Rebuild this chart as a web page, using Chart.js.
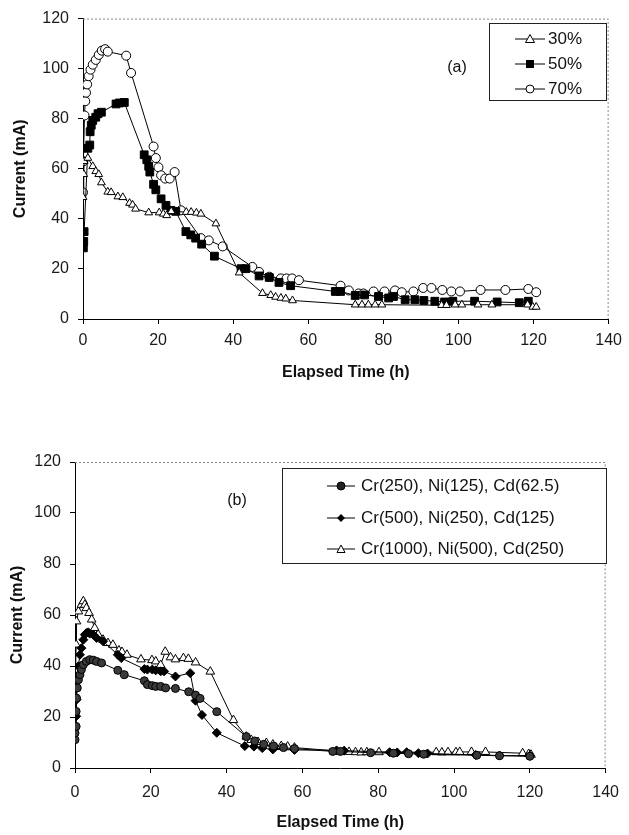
<!DOCTYPE html>
<html>
<head>
<meta charset="utf-8">
<script src="https://cdn.jsdelivr.net/npm/chart.js@4.4.1/dist/chart.umd.min.js"></script>
<style>
  body { margin: 0; background: #fff; width: 629px; height: 835px; position: relative; overflow: hidden;
         font-family: "Liberation Sans", Arial, sans-serif; color: #111; }
  .wrap { position: absolute; left: 0; width: 629px; }
  .legend { position: absolute; border: 1px solid #222; background: #fff; box-sizing: border-box; }
  .row { position: absolute; left: 0; height: 20px; display: flex; align-items: center; font-size: 17px; white-space: nowrap; }
  .row svg { display: block; }
  .tag { position: absolute; font-size: 16px; transform: translate(-50%, -50%); }
</style>
</head>
<body>
<div class="wrap" style="top:0;height:400px"><canvas id="chartA"></canvas></div>
<div class="wrap" style="top:400px;height:435px"><canvas id="chartB"></canvas></div>

<div class="tag" style="left:457px;top:67px">(a)</div>
<div class="legend" style="left:489px;top:23px;width:118px;height:78px">
  <div class="row" style="top:5px;left:25px">
    <svg width="30" height="12"><line x1="0" y1="6" x2="30" y2="6" stroke="#000"/><polygon points="15,1.5 19.5,9.5 10.5,9.5" fill="#fff" stroke="#000"/></svg>
    <span style="margin-left:3px">30%</span>
  </div>
  <div class="row" style="top:30px;left:25px">
    <svg width="30" height="12"><line x1="0" y1="6" x2="30" y2="6" stroke="#000"/><rect x="11" y="2" width="8" height="8" fill="#000"/></svg>
    <span style="margin-left:3px">50%</span>
  </div>
  <div class="row" style="top:55px;left:25px">
    <svg width="30" height="12"><line x1="0" y1="6" x2="30" y2="6" stroke="#000"/><circle cx="15" cy="6" r="4" fill="#fff" stroke="#000"/></svg>
    <span style="margin-left:3px">70%</span>
  </div>
</div>

<div class="tag" style="left:237px;top:500px">(b)</div>
<div class="legend" style="left:282px;top:468px;width:325px;height:96px">
  <div class="row" style="top:7px;left:44px">
    <svg width="28" height="12"><line x1="0" y1="6" x2="28" y2="6" stroke="#000"/><circle cx="14" cy="6" r="4" fill="#222" stroke="#000"/></svg>
    <span style="margin-left:6px">Cr(250), Ni(125), Cd(62.5)</span>
  </div>
  <div class="row" style="top:39px;left:44px">
    <svg width="28" height="12"><line x1="0" y1="6" x2="28" y2="6" stroke="#000"/><polygon points="14,2 18,6 14,10 10,6" fill="#000"/></svg>
    <span style="margin-left:6px">Cr(500), Ni(250), Cd(125)</span>
  </div>
  <div class="row" style="top:70px;left:44px">
    <svg width="28" height="12"><line x1="0" y1="6" x2="28" y2="6" stroke="#000"/><polygon points="14,2 18,9.5 10,9.5" fill="#fff" stroke="#000"/></svg>
    <span style="margin-left:6px">Cr(1000), Ni(500), Cd(250)</span>
  </div>
</div>

<script>
// Chart (a): applied voltage level, current vs elapsed time
const t30 = [0, 0.2, 0.3, 1.3, 2.6, 3.4, 4.2, 4.9, 6.6, 7.5, 9.3, 10.6, 12.4, 13.2, 14, 17.5, 20.3, 21.4, 22.3, 23.5, 27.5, 28.8, 30.2, 31.4, 35.4, 41.6, 47.8, 50, 51.3, 52.7, 54, 55.8, 72.5, 74.3, 76, 77.8, 79.6, 95.5, 96.8, 99.1, 100.9, 105.2, 108.9, 118.4, 119.8, 120.7];
const c30 = [48.6, 57.8, 63, 64.3, 61, 59, 57.8, 54.5, 50.8, 50.6, 48.9, 48.6, 46.3, 45.6, 44, 42.5, 42.5, 42, 41.4, 43, 42.7, 42.7, 42.4, 42, 38.1, 18.5, 10.3, 9.5, 8.8, 8.4, 8.1, 7.4, 5.7, 5.7, 5.7, 5.7, 5.7, 5.5, 5.5, 5.7, 5.7, 5.7, 5.7, 5.7, 4.8, 4.8];

const t50 = [0.1, 0.2, 0.3, 1.3, 1.8, 1.9, 2.2, 2.6, 3.4, 4, 4.9, 8.8, 9.7, 11, 16.3, 17, 17.5, 17.8, 18.8, 19.4, 20.8, 22.1, 23.4, 24.7, 27.4, 28.7, 30, 31.6, 35, 42.1, 43.4, 46.9, 49.6, 52.2, 55.3, 67.2, 68.6, 72.5, 75, 78.7, 81.4, 82.7, 85.8, 88.4, 90.8, 93.7, 96.3, 98.5, 104.3, 110.3, 116.2, 118.6];
const c50 = [28.4, 31, 34.9, 68.2, 69.5, 74.8, 77.4, 79.3, 80.6, 82, 82.6, 85.9, 86.3, 86.5, 65.6, 63.6, 61, 58.7, 53.8, 51.6, 48, 45.4, 43.4, 43, 34.9, 33.6, 32.3, 29.9, 25.1, 20.1, 20.1, 17.2, 16.6, 14.6, 13.3, 11, 11, 9.4, 9.6, 9, 8.4, 9, 7.7, 7.7, 7.4, 7.1, 6.8, 7.1, 7.1, 6.8, 6.5, 7.1];

const t70 = [0, 0.1, 0.4, 0.6, 0.8, 1.1, 1.5, 2, 2.6, 3.4, 4.2, 5, 5.9, 6.6, 11.5, 12.8, 18.8, 19.4, 20.1, 20.8, 21.9, 23.1, 24.4, 26.1, 31.4, 33.5, 37.2, 45.1, 46.9, 49.6, 52.7, 54.2, 55.7, 57.5, 68.6, 70.8, 73.4, 74.7, 77.4, 80.3, 83.1, 84.9, 88, 90.6, 92.8, 95.7, 98.1, 100.4, 105.9, 112.5, 118.6, 120.7];
const c70 = [50.6, 63, 81.3, 87, 90.4, 93.7, 97, 99.6, 101.6, 103.5, 105.5, 107.2, 107.8, 106.8, 105.2, 98.3, 68.9, 64.3, 60.6, 57.4, 56.1, 56.1, 58.7, 43.4, 32.3, 31.4, 29, 20.8, 18.8, 16.9, 16.2, 16.2, 16.2, 15.5, 13.3, 11.4, 10.2, 10.2, 11, 11, 11.4, 10.7, 11, 12.4, 12.4, 11.6, 11, 11, 11.6, 11.6, 12, 10.7];

// Chart (b): metal concentrations
const tb1 = [0, 0, 0.3, 0.3, 0.4, 0.6, 0.9, 1.3, 1.7, 2.2, 3, 3.9, 4.8, 5.7, 7, 11.3, 13, 18.3, 19.1, 20.4, 21.3, 22.6, 23.9, 26.5, 30, 31.8, 33, 37.4, 45.2, 47.4, 49.8, 52.4, 55, 57.9, 68, 70, 78, 84, 88, 92, 106, 112, 120];
const cb1 = [11.1, 13.7, 16.3, 22.2, 27.4, 31.4, 34.6, 36.6, 38.6, 40.5, 41.8, 42.5, 42.3, 41.8, 41.2, 38.3, 36.6, 34.2, 32.7, 32.3, 32, 32, 31.4, 31.2, 29.9, 28.6, 27.3, 22.1, 12.3, 10.6, 9.3, 8.6, 8, 7.6, 6.5, 6.5, 6, 5.8, 5.6, 5.4, 5, 4.8, 4.6];

const tb2 = [0, 0.3, 0.4, 0.6, 0.9, 1.3, 1.7, 2.2, 2.6, 3, 3.5, 3.9, 4.8, 5.7, 7.4, 11.3, 12.2, 18.3, 19.1, 20.4, 21.3, 22.6, 23.5, 26.5, 30.4, 31.8, 33.5, 37.4, 44.8, 47.2, 49.4, 52.2, 57.9, 69, 71, 83, 85, 87.5, 90.6, 93, 105.7, 112, 120];
const cb2 = [16.3, 20.3, 26.8, 34.6, 39.9, 44.4, 47, 50.3, 52.3, 52.9, 53.2, 52.7, 52.3, 51, 49.7, 44.4, 43.1, 38.8, 38.6, 38.6, 38.3, 37.9, 37.9, 35.9, 37.2, 26.4, 20.8, 13.8, 8.6, 8.4, 7.8, 7.3, 7.1, 6.9, 6.8, 6.2, 6.1, 6.2, 5.8, 5.7, 5.1, 4.9, 4.8];

const tb3 = [0, 0.3, 0.4, 0.9, 1.7, 2.2, 2.6, 3, 3.7, 4.4, 5.2, 6.1, 7.4, 8.7, 10, 11.6, 12.4, 13.7, 17.4, 20.3, 21.3, 22.6, 23.8, 25.2, 26.5, 28.6, 29.9, 31.8, 35.7, 41.8, 45.2, 46.5, 48.3, 50.5, 52.2, 54.4, 56.1, 57.9, 72.3, 74, 75.5, 77, 80.2, 95.3, 96.8, 98.4, 100.5, 101.5, 104.6, 108.3, 118.1, 119.7, 120.3];
const cb3 = [27.4, 48.4, 57.5, 61.4, 64, 65.4, 64, 62.7, 60.8, 58.2, 54.9, 52.3, 50.3, 49, 48.3, 46.1, 45.5, 44.4, 42.6, 42.3, 41.8, 40.4, 45.6, 43.4, 42.6, 43.1, 42.8, 41.4, 37.8, 18.8, 12.3, 11, 10.2, 9.8, 9.2, 8.6, 8.4, 8, 6.3, 6.2, 6.1, 6.2, 6.2, 6.2, 6.1, 6.2, 6.2, 6.3, 6.3, 6.3, 5.8, 5.5, 5.2];

const xTicks = [0, 20, 40, 60, 80, 100, 120, 140];
const yTicks = [0, 20, 40, 60, 80, 100, 120];

const pts = (xs, ys) => xs.map((x, i) => ({ x: x, y: ys[i] }));

// dotted frame on top/right of the plot area (Excel style)
const frame = {
    id: 'frame',
    beforeDatasetsDraw(chart) {
        const { ctx, chartArea: a } = chart;
        ctx.save();
        ctx.strokeStyle = '#888';
        ctx.lineWidth = 1;
        ctx.setLineDash([2, 2]);
        ctx.beginPath();
        ctx.moveTo(a.left, a.top + 0.5);
        ctx.lineTo(a.right - 0.5, a.top + 0.5);
        ctx.lineTo(a.right - 0.5, a.bottom);
        ctx.stroke();
        ctx.restore();
    }
};

const tickFont = { family: '"Liberation Sans", Arial, sans-serif', size: 16 };
const titleFont = { family: '"Liberation Sans", Arial, sans-serif', size: 16, weight: 'bold' };

function series(label, xs, ys, style, radius, fill) {
    return {
        label: label,
        data: pts(xs, ys),
        borderColor: '#000',
        borderWidth: 1,
        pointStyle: style,
        pointRadius: radius,
        pointBackgroundColor: fill,
        pointBorderColor: '#000',
        pointBorderWidth: 1,
        tension: 0,
        fill: false
    };
}

function makeOptions(o) {
    return {
        responsive: true,
        maintainAspectRatio: false,
        animation: false,
        events: [],
        layout: { padding: { top: o.top, right: 18, left: 0, bottom: 0 } },
        plugins: { legend: { display: false }, tooltip: { enabled: false } },
        scales: {
            x: {
                type: 'linear', min: 0, max: 140,
                afterBuildTicks: s => { s.ticks = xTicks.map(v => ({ value: v })); },
                afterFit: s => { s.height = o.xh; },
                ticks: { font: tickFont, color: '#1a1a1a', padding: o.xpad, maxRotation: 0 },
                grid: { drawOnChartArea: false, tickLength: 5, color: '#000' },
                border: { color: '#000', width: 1 },
                title: { display: true, text: 'Elapsed Time (h)', font: titleFont, color: '#111', padding: { top: 0, bottom: o.tpad } }
            },
            y: {
                min: 0, max: 120,
                afterBuildTicks: s => { s.ticks = yTicks.map(v => ({ value: v })); },
                afterFit: s => { s.width = o.yw; },
                ticks: { font: tickFont, color: '#1a1a1a', padding: 9 },
                grid: { drawOnChartArea: false, tickLength: 5, color: '#000' },
                border: { color: '#000', width: 1 },
                title: { display: true, text: 'Current (mA)', font: titleFont, color: '#111', padding: { top: o.ytpad, bottom: 0 } }
            }
        }
    };
}

new Chart(document.getElementById('chartA'), {
    type: 'line',
    data: {
        datasets: [
            series('30%', t30, c30, 'triangle', 4.5, '#fff'),
            series('50%', t50, c50, 'rect', 5.5, '#000'),
            series('70%', t70, c70, 'circle', 4.5, '#fff')
        ]
    },
    options: makeOptions({ top: 13, xh: 81, xpad: 7, tpad: 18, yw: 83, ytpad: 11 }),
    plugins: [frame]
});

new Chart(document.getElementById('chartB'), {
    type: 'line',
    data: {
        datasets: [
            series('Cr(250), Ni(125), Cd(62.5)', tb1, cb1, 'circle', 4, '#3a3a3a'),
            series('Cr(500), Ni(250), Cd(125)', tb2, cb2, 'rectRot', 4.5, '#000'),
            series('Cr(1000), Ni(500), Cd(250)', tb3, cb3, 'triangle', 5, '#fff')
        ]
    },
    options: makeOptions({ top: 62, xh: 67, xpad: 10, tpad: 3, yw: 75, ytpad: 8 }),
    plugins: [frame]
});
</script>
</body>
</html>
